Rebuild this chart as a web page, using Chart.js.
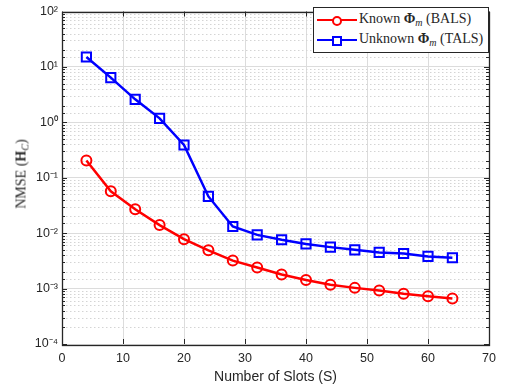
<!DOCTYPE html>
<html>
<head>
<meta charset="utf-8">
<script src="https://cdn.jsdelivr.net/npm/chart.js@4/dist/chart.umd.min.js"></script>
<style>
  body { margin: 0; background: #fff; }
  #wrap { position: relative; width: 506px; height: 392px; }
  #chart { position: absolute; left: 0; top: 0; }
  .ytitle {
    position: absolute; left: 22px; top: 174px;
    transform: translate(-50%, -50%) rotate(-90deg);
    font: 14px "Liberation Serif", "DejaVu Serif", serif; color: #262626; white-space: nowrap;
  }
  .legend {
    position: absolute; left: 313px; top: 7px; width: 174px; height: 44px;
    border: 1px solid #262626; background: #fff;
    font: 14px "Liberation Serif", "DejaVu Serif", serif; color: #262626;
  }
  .item { position: absolute; left: 0; height: 20px; width: 174px; }
  .item .ln { position: absolute; left: 3px; top: 9px; width: 40px; height: 0; border-top: 2.5px solid; }
  .item .mk { position: absolute; left: 18px; top: 5.5px; width: 6px; height: 6px; border: 2px solid; background: #fff; }
  .item .tx { position: absolute; left: 45px; top: 1px; white-space: nowrap; }
  sub { font-size: 10px; font-style: italic; vertical-align: -3px; }
</style>
</head>
<body>
<div id="wrap">
  <canvas id="chart" width="506" height="392"></canvas>
  <div class="ytitle">NMSE (<b>H</b><sub>C</sub>)</div>
  <div class="legend">
    <div class="item" style="top:2px">
      <span class="ln" style="border-color:#ff0000"></span>
      <span class="mk" style="border-color:#ff0000;border-radius:50%"></span>
      <span class="tx">Known <b>Φ</b><sub>m</sub> (BALS)</span>
    </div>
    <div class="item" style="top:22px">
      <span class="ln" style="border-color:#0000ff"></span>
      <span class="mk" style="border-color:#0000ff"></span>
      <span class="tx">Unknown <b>Φ</b><sub>m</sub> (TALS)</span>
    </div>
  </div>
</div>
<script>
// values
const slots = [4, 8, 12, 16, 20, 24, 28, 32, 36, 40, 44, 48, 52, 56, 60, 64];
const knownBals = [0.204, 0.057, 0.027, 0.014, 0.0078, 0.0049, 0.0032, 0.0024, 0.0018, 0.00143, 0.00117, 0.00103, 0.00092, 0.00081, 0.00073, 0.00066];
const unknownTals = [15.1, 6.4, 2.6, 1.18, 0.39, 0.046, 0.0132, 0.0093, 0.0076, 0.0064, 0.0056, 0.0050, 0.0045, 0.0043, 0.0038, 0.0036];
const xTicks = [0, 10, 20, 30, 40, 50, 60, 70];
const yDecades = [1e-4, 1e-3, 1e-2, 1e-1, 1e0, 1e1, 1e2];

const sup = { '-': '⁻', '0': '⁰', '1': '¹', '2': '²', '3': '³', '4': '⁴' };
function isMajor(v) {
  const l = Math.log10(v);
  return Math.abs(l - Math.round(l)) < 1e-6;
}
function powLabel(v) {
  const e = Math.round(Math.log10(v));
  return '10' + String(e).split('').map(c => sup[c]).join('');
}
const pts = vals => slots.map((s, i) => ({ x: s, y: vals[i] }));

// dotted minor grid (horizontal only, like MATLAB)
const minorGrid = {
  id: 'minorGrid',
  beforeDatasetsDraw(chart) {
    const { ctx, chartArea: a, scales: { y } } = chart;
    ctx.save();
    ctx.strokeStyle = '#d4d4d4';
    ctx.lineWidth = 1;
    ctx.setLineDash([1.5, 2.5]);
    ctx.beginPath();
    y.ticks.forEach(t => {
      if (isMajor(t.value)) return;
      const py = Math.round(y.getPixelForValue(t.value)) + 0.5;
      ctx.moveTo(a.left, py); ctx.lineTo(a.right, py);
    });
    ctx.stroke();
    ctx.restore();
  }
};

// MATLAB-like box with inward ticks
const axesBox = {
  id: 'axesBox',
  afterDraw(chart) {
    const { ctx, chartArea: a, scales: { x, y } } = chart;
    ctx.save();
    ctx.strokeStyle = '#262626';
    ctx.lineWidth = 1;
    ctx.beginPath();
    x.ticks.forEach(t => {
      const px = Math.round(x.getPixelForValue(t.value)) + 0.5;
      ctx.moveTo(px, a.bottom); ctx.lineTo(px, a.bottom - 5);
      ctx.moveTo(px, a.top); ctx.lineTo(px, a.top + 5);
    });
    y.ticks.forEach(t => {
      const len = isMajor(t.value) ? 5 : 3;
      const py = Math.round(y.getPixelForValue(t.value)) + 0.5;
      ctx.moveTo(a.left, py); ctx.lineTo(a.left + len, py);
      ctx.moveTo(a.right, py); ctx.lineTo(a.right - len, py);
    });
    ctx.stroke();
    ctx.lineWidth = 1.3;
    ctx.strokeRect(Math.round(a.left) + 0.5, Math.round(a.top) + 0.5,
      Math.round(a.right - a.left), Math.round(a.bottom - a.top));
    ctx.restore();
  }
};

new Chart(document.getElementById('chart'), {
  type: 'line',
  data: {
    datasets: [{
      label: 'Known Φm (BALS)',
      data: pts(knownBals),
      borderColor: '#ff0000',
      backgroundColor: 'rgba(0,0,0,0)',
      borderWidth: 2.5,
      pointStyle: 'circle',
      pointRadius: 5,
      pointBorderWidth: 2,
      pointBackgroundColor: 'rgba(0,0,0,0)',
      tension: 0
    }, {
      label: 'Unknown Φm (TALS)',
      data: pts(unknownTals),
      borderColor: '#0000ff',
      backgroundColor: 'rgba(0,0,0,0)',
      borderWidth: 2.5,
      pointStyle: 'rect',
      pointRadius: 6.5,
      pointBorderWidth: 2,
      pointBackgroundColor: 'rgba(0,0,0,0)',
      tension: 0
    }]
  },
  options: {
    responsive: false,
    animation: false,
    layout: { padding: { left: 0, right: 17, top: 7, bottom: 0 } },
    plugins: { legend: { display: false }, tooltip: { enabled: false } },
    scales: {
      x: {
        type: 'linear', min: 0, max: 70,
        afterBuildTicks: s => { s.ticks = xTicks.map(v => ({ value: v })); },
        ticks: { color: '#262626', font: { family: 'Liberation Sans, Arial', size: 12.5 }, padding: 7 },
        grid: { color: '#dcdcdc', lineWidth: 1, drawTicks: false },
        border: { display: false },
        title: {
          display: true, text: 'Number of Slots (S)', color: '#262626',
          font: { family: 'Liberation Sans, Arial', size: 14 }, padding: { top: 0, bottom: 6 }
        },
        afterFit: s => { s.height = 48; }
      },
      y: {
        type: 'logarithmic', min: 1e-4, max: 1e2,
        ticks: {
          autoSkip: false, color: '#262626', padding: 4,
          font: { family: 'Liberation Sans, Arial', size: 12.5 },
          callback: v => (yDecades.some(d => Math.abs(Math.log10(v) - Math.log10(d)) < 1e-6) ? powLabel(v) : '')
        },
        grid: {
          drawTicks: false,
          color: c => (c.tick && !isMajor(c.tick.value) ? 'rgba(0,0,0,0)' : '#dcdcdc')
        },
        border: { display: false },
        afterFit: s => { s.width = 62; }
      }
    }
  },
  plugins: [minorGrid, axesBox]
});
</script>
</body>
</html>
